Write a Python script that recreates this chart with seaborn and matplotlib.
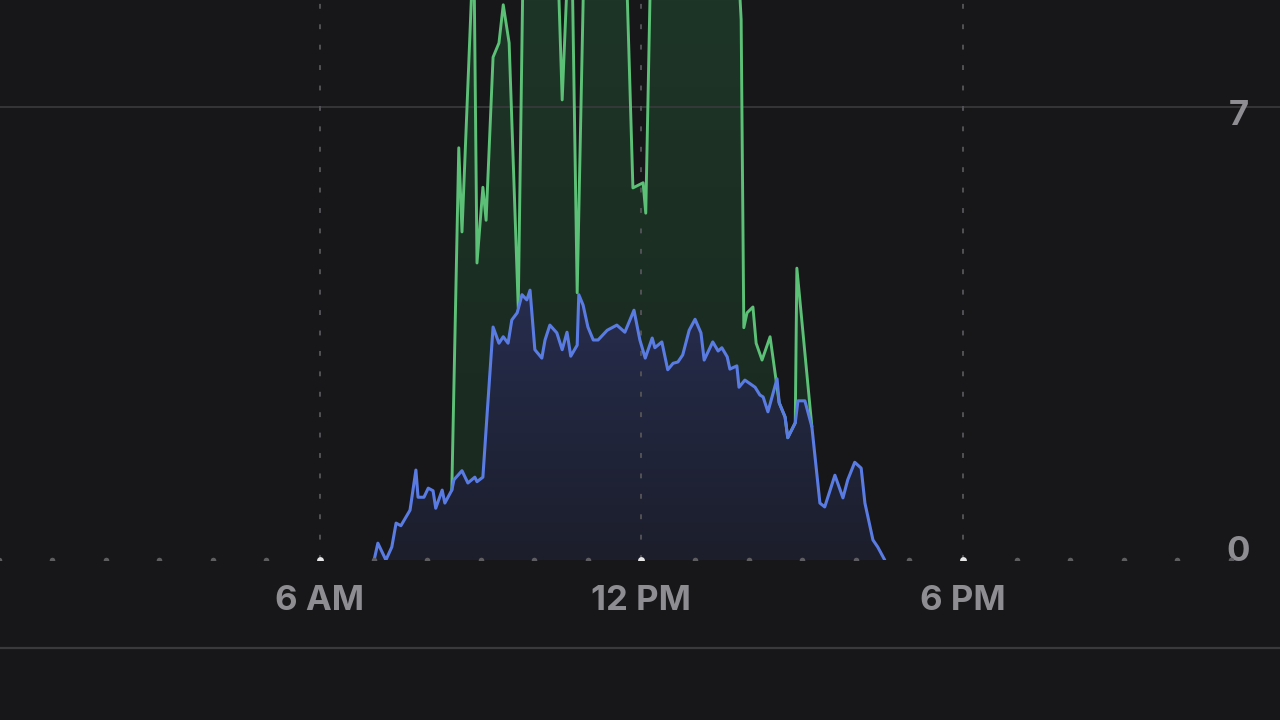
import numpy as np
import pandas as pd
import matplotlib
matplotlib.use("Agg")
import matplotlib.pyplot as plt
import seaborn as sns
from matplotlib.colors import LinearSegmentedColormap
from matplotlib.lines import Line2D
from matplotlib.transforms import blended_transform_factory

# hour of day (decimal) and value
blue_hours = [7.01, 7.08, 7.23, 7.34, 7.42, 7.51, 7.68, 7.79, 7.83, 7.94, 8.02, 8.11,
              8.16, 8.28, 8.33, 8.46, 8.50, 8.65, 8.76, 8.89, 8.93, 9.04, 9.12, 9.23,
              9.34, 9.42, 9.51, 9.58, 9.68, 9.77, 9.86, 9.92, 10.01, 10.14, 10.20, 10.29,
              10.42, 10.52, 10.61, 10.68, 10.80, 10.83, 10.91, 11.00, 11.10, 11.19, 11.36,
              11.54, 11.69, 11.86, 11.97, 12.07, 12.20, 12.25, 12.38, 12.49, 12.59, 12.68,
              12.77, 12.89, 13.00, 13.11, 13.17, 13.33, 13.43, 13.50, 13.60, 13.65, 13.78,
              13.82, 13.93, 14.12, 14.21, 14.27, 14.36, 14.53, 14.57, 14.68, 14.73, 14.87,
              14.92, 15.05, 15.18, 15.33, 15.42, 15.61, 15.76, 15.85, 15.98, 16.10, 16.17,
              16.32, 16.41, 16.54]
blue_values = [0.00, 0.26, 0.00, 0.20, 0.57, 0.53, 0.77, 1.39, 0.97, 0.97, 1.11, 1.07,
               0.80, 1.08, 0.88, 1.08, 1.24, 1.38, 1.19, 1.28, 1.21, 1.28, 2.27, 3.60,
               3.35, 3.45, 3.35, 3.71, 3.82, 4.10, 4.02, 4.17, 3.25, 3.12, 3.40, 3.63,
               3.51, 3.25, 3.52, 3.15, 3.32, 4.10, 3.94, 3.60, 3.40, 3.40, 3.55,
               3.63, 3.52, 3.86, 3.40, 3.12, 3.43, 3.28, 3.37, 2.94, 3.04, 3.06,
               3.17, 3.55, 3.72, 3.51, 3.09, 3.37, 3.23, 3.28, 3.14, 2.95, 3.00,
               2.67, 2.78, 2.67, 2.55, 2.52, 2.29, 2.80, 2.43, 2.21, 1.89, 2.12,
               2.46, 2.46, 2.06, 0.88, 0.82, 1.31, 0.96, 1.24, 1.51, 1.42, 0.88,
               0.31, 0.20, 0.00]

green_hours = [8.46, 8.59, 8.65, 8.87, 8.93, 9.04, 9.10, 9.23, 9.34, 9.42, 9.53, 9.70,
               9.80, 10.01, 10.25, 10.44, 10.52, 10.63, 10.70, 10.80, 10.93, 11.13, 11.42,
               11.64, 11.71, 11.84, 12.03, 12.08, 12.18, 12.53, 12.91, 13.28, 13.65, 13.80,
               13.86, 13.91, 13.97, 14.08, 14.14, 14.25, 14.40, 14.57, 14.68, 14.73, 14.87,
               14.90, 15.18]
green_values = [1.08, 6.37, 5.07, 9.60, 4.59, 5.76, 5.25, 7.77, 7.99, 8.58, 7.99, 3.90,
                9.80, 10.40, 9.90, 9.20, 7.11, 9.30, 9.50, 4.13, 9.40, 10.00, 10.60,
                9.80, 9.40, 5.75, 5.83, 5.36, 9.60, 10.20, 10.80, 10.30, 10.60, 9.30,
                8.35, 3.59, 3.82, 3.91, 3.35, 3.09, 3.45, 2.43, 2.21, 1.89, 2.12,
                4.51, 2.06]

tick_hours = [6, 12, 18]
tick_labels = ["6 AM", "12 PM", "6 PM"]
y_ticks = [0, 7]

BG = "#17171a"
BLUE = "#5a7ce2"
GREEN = "#5cc077"
TEXT = "#8d8d92"
GRID = "#3a3a3d"

sns.set_theme(style="dark")
plt.rcParams["font.family"] = ["Inter", "DejaVu Sans"]

fig = plt.figure(figsize=(12.8, 7.2), dpi=100, facecolor=BG)
ax = fig.add_axes([0, 1 - 560 / 720, 1, 560 / 720])
ax.set_facecolor(BG)

YMAX = 560 / 64.71


def gradient_fill(ax, x, y, bottom_color, top_color, top, z):
    poly = ax.fill_between(x, y, 0, facecolor="none", edgecolor="none")
    cmap = LinearSegmentedColormap.from_list("fill", [bottom_color, top_color])
    grad = np.linspace(0, 1, 256).reshape(-1, 1)
    im = ax.imshow(grad, cmap=cmap, aspect="auto", origin="lower",
                   extent=[x[0], x[-1], 0, top], zorder=z)
    im.set_clip_path(poly.get_paths()[0], transform=ax.transData)


gradient_fill(ax, green_hours, green_values, "#1a2820", "#1d3526", YMAX, 1)
gradient_fill(ax, blue_hours, blue_values, "#1c1e2b", "#262d4e", 4.2, 2)

# grid: horizontal at 7 and dotted verticals at 6/12/18
ax.axhline(7, color=GRID, lw=1.2, zorder=3)
for h in tick_hours:
    ax.axvline(h, ymin=0, ymax=1, color="#525256", lw=1.4,
               linestyle=(0, (2.5, 8)), zorder=3)

green_df = pd.DataFrame({"hour": green_hours, "value": green_values})
blue_df = pd.DataFrame({"hour": blue_hours, "value": blue_values})
sns.lineplot(data=green_df, x="hour", y="value", color=GREEN, lw=2.1,
             estimator=None, sort=False, ax=ax, zorder=4)
sns.lineplot(data=blue_df, x="hour", y="value", color=BLUE, lw=2.2,
             estimator=None, sort=False, ax=ax, zorder=5)

# hour dots along the baseline
hours = np.arange(0, 24)
minor = [h for h in hours if h not in tick_hours]
ax.scatter(minor, [0] * len(minor), s=16, color="#5e5e62", lw=0, zorder=6)
ax.scatter(tick_hours, [0] * len(tick_hours), s=24, color="#e6e6e6", lw=0, zorder=6)

ax.set_xlim(6 - 320 / 53.58, 6 + 960 / 53.58)
ax.set_ylim(0, YMAX)
ax.set_xlabel("")
ax.set_ylabel("")
ax.grid(False)
for s in ax.spines.values():
    s.set_visible(False)

ax.set_xticks(tick_hours, tick_labels)
ax.tick_params(axis="x", length=0, pad=18, colors=TEXT, labelsize=25)
for lab in ax.get_xticklabels():
    lab.set_fontweight("bold")
ax.set_yticks([])

trans = blended_transform_factory(ax.transAxes, ax.transData)
ax.text(1239 / 1280, y_ticks[1] - 0.14, str(y_ticks[1]), transform=trans, ha="center",
        va="center", color=TEXT, fontsize=25, fontweight="bold")
ax.text(1238 / 1280, y_ticks[0] + 0.12, str(y_ticks[0]), transform=trans, ha="center",
        va="center", color=TEXT, fontsize=25, fontweight="bold")

fig.add_artist(Line2D([0, 1], [1 - 648 / 720] * 2, color=GRID, lw=1.6,
                      transform=fig.transFigure))

fig.savefig("out.png", dpi=100, facecolor=BG)
